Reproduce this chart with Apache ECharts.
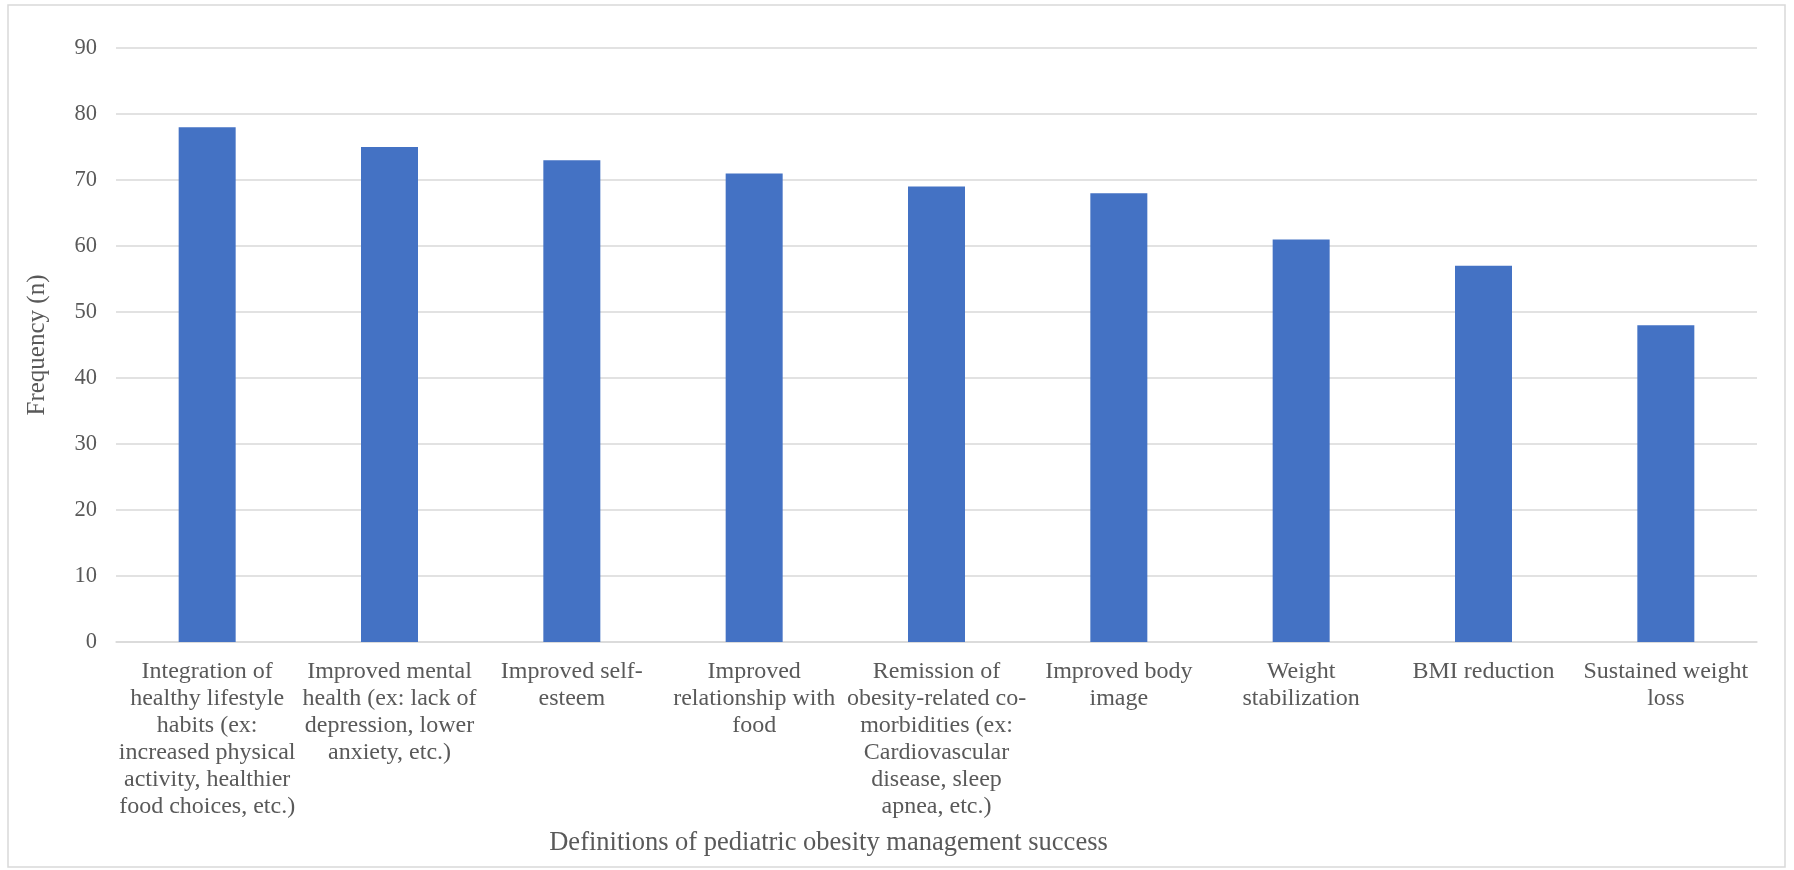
<!DOCTYPE html>
<html>
<head>
<meta charset="utf-8">
<script src="https://cdn.jsdelivr.net/npm/echarts@6/dist/echarts.min.js"></script>
<style>
  html, body { margin: 0; padding: 0; background: #ffffff; }
  #chart { width: 1794px; height: 870px; }
</style>
</head>
<body>
<div id="chart"></div>
<script>
// Definitions of success, with line breaks as they wrap under each column
const categories = [
  'Integration of\nhealthy lifestyle\nhabits (ex:\nincreased physical\nactivity, healthier\nfood choices, etc.)',
  'Improved mental\nhealth (ex: lack of\ndepression, lower\nanxiety, etc.)',
  'Improved self-\nesteem',
  'Improved\nrelationship with\nfood',
  'Remission of\nobesity-related co-\nmorbidities (ex:\nCardiovascular\ndisease, sleep\napnea, etc.)',
  'Improved body\nimage',
  'Weight\nstabilization',
  'BMI reduction',
  'Sustained weight\nloss'
];
// Number of respondents choosing each definition
const frequency = [78, 75, 73, 71, 69, 68, 61, 57, 48];

// Value axis range
const yMin = 0;
const yMax = 90;
const yStep = 10;

const xTitle = 'Definitions of pediatric obesity management success';
const yTitle = 'Frequency (n)';

const FONT = '"Liberation Serif", "Times New Roman", serif';
const TEXT = '#595959';
const GRID = '#D9D9D9';

const chart = echarts.init(document.getElementById('chart'), null, { renderer: 'canvas' });

chart.setOption({
  animation: false,
  backgroundColor: '#ffffff',
  textStyle: { fontFamily: FONT },
  grid: { left: 116, right: 37, top: 48, bottom: 228, containLabel: false },
  graphic: [{
    type: 'rect',
    shape: { x: 8, y: 5, width: 1777, height: 862 },
    style: { fill: 'none', stroke: GRID, lineWidth: 1.5 },
    silent: true,
    z: -1
  }],
  xAxis: {
    type: 'category',
    data: categories,
    name: xTitle,
    nameLocation: 'middle',
    nameGap: 188,
    nameTextStyle: {
      fontFamily: FONT, fontSize: 26.5, color: TEXT,
      padding: [0, 216, 0, 0]
    },
    axisLine: { show: true, lineStyle: { color: GRID, width: 1.5 } },
    axisTick: { show: false },
    axisLabel: {
      interval: 0,
      margin: 16,
      fontFamily: FONT, fontSize: 24, color: TEXT,
      lineHeight: 27,
      align: 'center'
    },
    splitLine: { show: false }
  },
  yAxis: {
    type: 'value',
    min: yMin,
    max: yMax,
    interval: yStep,
    name: yTitle,
    nameLocation: 'middle',
    nameRotate: 90,
    nameGap: 66,
    nameTextStyle: { fontFamily: FONT, fontSize: 25, color: TEXT },
    axisLine: { show: false },
    axisTick: { show: false },
    axisLabel: { margin: 19, fontFamily: FONT, fontSize: 22.5, color: TEXT },
    splitLine: { show: true, lineStyle: { color: GRID, width: 1.5 } }
  },
  series: [{
    type: 'bar',
    data: frequency,
    barWidth: 57,
    itemStyle: { color: '#4472C4' }
  }]
});
</script>
</body>
</html>
